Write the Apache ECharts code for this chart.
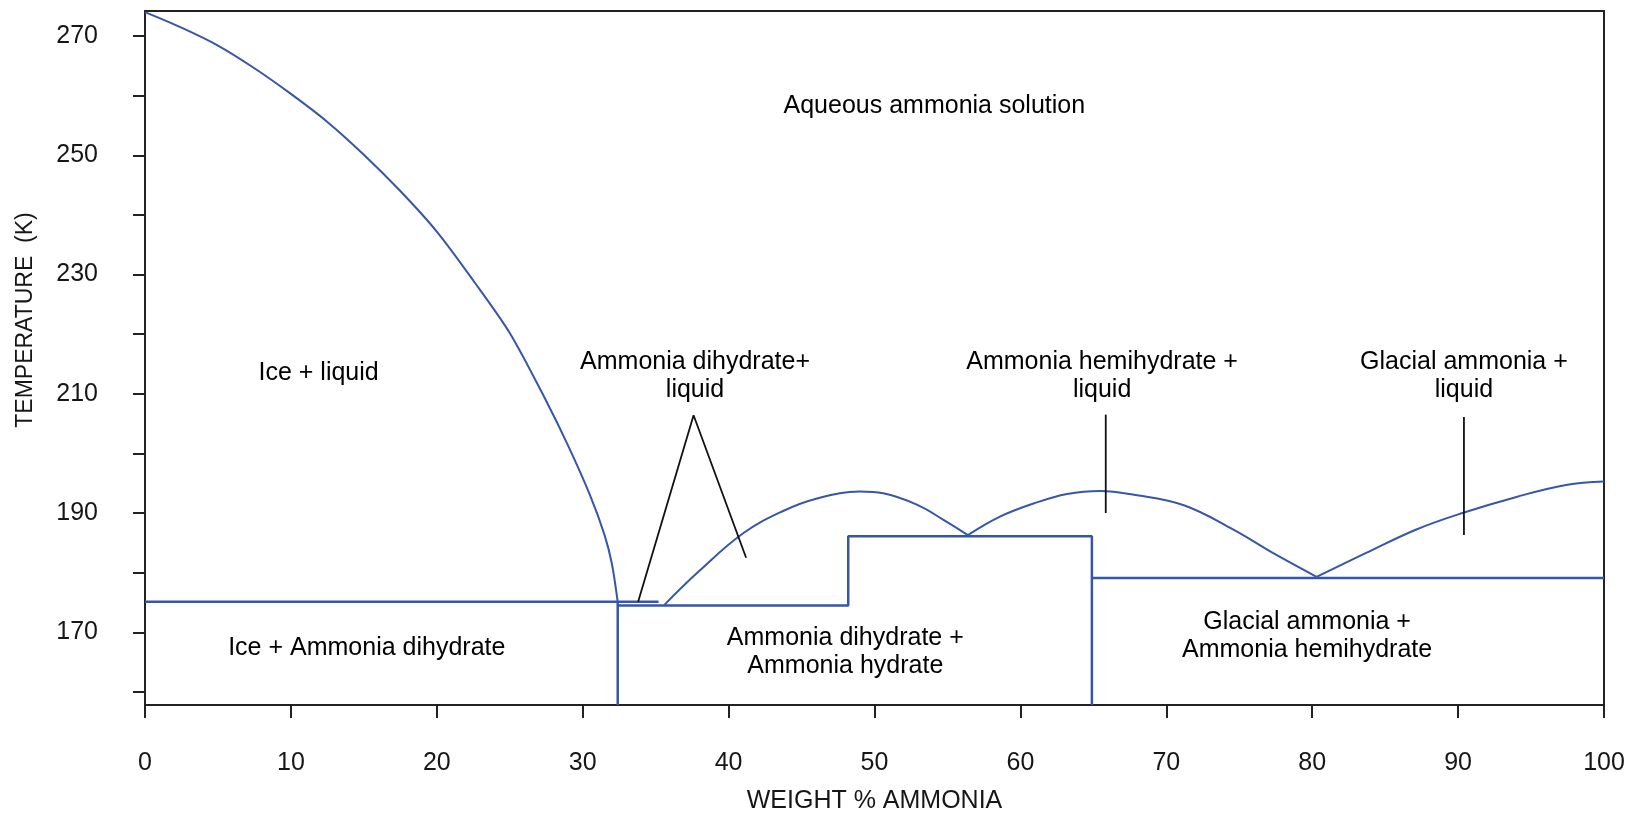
<!DOCTYPE html>
<html>
<head>
<meta charset="utf-8">
<title>Ammonia–water phase diagram</title>
<script src="https://cdn.jsdelivr.net/npm/echarts@6/dist/echarts.min.js"></script>
<style>
  html, body { margin: 0; padding: 0; background: #ffffff; }
  #chart { width: 1636px; height: 813px; }
</style>
</head>
<body>
<div id="chart"></div>
<script>
// Axis ranges and ticks (weight % NH3, temperature in K)
const xMin = 0, xMax = 100;
const yMin = 157.8, yMax = 274.2;
const yTickValues = [160, 170, 180, 190, 200, 210, 220, 230, 240, 250, 260, 270];
const yLabelValues = [170, 190, 210, 230, 250, 270];

// Ice liquidus (freezing curve of water ice)
const iceWt = [0, 2.5, 5.0, 7.5, 10, 12.5, 15, 17.5, 20, 22.5, 25, 27.5, 29, 30.5, 31.5, 32.0, 32.4];
const iceT  = [274.0, 271.4, 268.4, 264.6, 260.3, 255.6, 250.1, 244.0, 237.2, 229.0, 220.2, 208.8, 201.3, 193.0, 186.3, 181.5, 175.1];

// Ammonia dihydrate liquidus
const dihydrateWt = [35.6, 38.0, 41.0, 43.7, 46.0, 49.0, 50.6, 52.9, 54.7, 56.4];
const dihydrateT  = [174.6, 180.3, 186.6, 190.3, 192.4, 193.6, 193.3, 191.4, 188.9, 186.3];

// Ammonia hemihydrate liquidus
const hemihydrateWt = [56.4, 58.6, 60.9, 63.2, 65.5, 67.7, 71.2, 74.6, 77.3, 80.3];
const hemihydrateT  = [186.3, 189.4, 191.6, 193.2, 193.7, 193.1, 191.3, 187.2, 183.3, 179.3];

// Glacial (solid) ammonia liquidus
const glacialWt = [80.3, 83.7, 87.1, 90.3, 94.0, 97.4, 100];
const glacialT  = [179.3, 183.3, 187.2, 190.0, 192.7, 194.7, 195.3];

// Eutectic / peritectic boundaries
const iceEutecticWt = [0, 35.2];
const iceEutecticT  = [175.1, 175.1];
const iceBoundaryWt = [32.4, 32.4];
const iceBoundaryT  = [175.1, yMin];
const hydrateBoxWt = [32.4, 48.2, 48.2, 64.9, 64.9];
const hydrateBoxT  = [174.5, 174.5, 186.1, 186.1, yMin];
const glacialEutecticWt = [64.9, 100];
const glacialEutecticT  = [179.1, 179.1];

// Leader lines from the region labels
const dihydrateLeaderWt = [33.8, 37.6, 41.2];
const dihydrateLeaderT  = [175.1, 206.4, 182.5];
const hemihydrateLeaderWt = [65.85, 65.85];
const hemihydrateLeaderT  = [206.5, 190.0];
const glacialLeaderWt = [90.4, 90.4];
const glacialLeaderT  = [206.1, 186.3];

// Region names and where they sit (wt %, K)
const regionNames = [
  'Aqueous ammonia solution',
  'Ice + liquid',
  'Ammonia dihydrate+\nliquid',
  'Ammonia hemihydrate +\nliquid',
  'Glacial ammonia +\nliquid',
  'Ice + Ammonia dihydrate',
  'Ammonia dihydrate +\nAmmonia hydrate',
  'Glacial ammonia +\nAmmonia hemihydrate'
];
const regionWt = [54.1, 11.9, 37.7, 65.6, 90.4, 15.2, 48.0, 79.65];
const regionT  = [258.3, 213.4, 212.9, 212.9, 212.9, 167.4, 166.6, 169.4];

const FONT = '"Liberation Sans", Arial, Helvetica, sans-serif';
const BLUE = '#3656a8';
const INK = '#161616';

const zip = (xs, ys) => xs.map((x, i) => [x, ys[i]]);

function curve(name, xs, ys, smooth, color, width) {
  return {
    name: name,
    type: 'line',
    data: zip(xs, ys),
    smooth: smooth,
    showSymbol: false,
    symbol: 'none',
    lineStyle: { color: color, width: width },
    silent: true,
    z: 3
  };
}

const chart = echarts.init(document.getElementById('chart'), null, { renderer: 'canvas' });

chart.setOption({
  animation: false,
  backgroundColor: '#ffffff',
  textStyle: { fontFamily: FONT, color: INK },
  grid: {
    left: 145, right: 32, top: 11, bottom: 108,
    containLabel: false,
    outerBoundsMode: 'none',
    show: true,
    borderColor: '#222222',
    borderWidth: 2,
    backgroundColor: 'transparent'
  },
  xAxis: {
    type: 'value',
    min: xMin, max: xMax, interval: 10,
    name: 'WEIGHT % AMMONIA',
    nameLocation: 'middle',
    nameGap: 84,
    nameTextStyle: { fontFamily: FONT, fontSize: 25, color: INK },
    axisLine: { show: true, lineStyle: { color: '#222222', width: 2 } },
    axisTick: { show: true, inside: false, length: 13, lineStyle: { color: '#222222', width: 2 } },
    axisLabel: { fontFamily: FONT, fontSize: 25, color: INK, margin: 46 },
    splitLine: { show: false }
  },
  yAxis: {
    type: 'value',
    min: yMin, max: yMax,
    name: 'TEMPERATURE  (K)',
    nameLocation: 'middle',
    nameRotate: 90,
    nameGap: 108,
    nameTextStyle: { fontFamily: FONT, fontSize: 23, color: INK, padding: [0, 0, 0, 76] },
    axisLine: { show: true, lineStyle: { color: '#222222', width: 2 } },
    axisTick: { show: true, inside: false, length: 12, customValues: yTickValues, lineStyle: { color: '#222222', width: 2 } },
    axisLabel: { fontFamily: FONT, fontSize: 25, color: INK, margin: 47, customValues: yLabelValues },
    splitLine: { show: false }
  },
  series: [
    curve('Ice liquidus', iceWt, iceT, 0.3, BLUE, 2),
    curve('Dihydrate liquidus', dihydrateWt, dihydrateT, 0.4, BLUE, 2),
    curve('Hemihydrate liquidus', hemihydrateWt, hemihydrateT, 0.4, BLUE, 2),
    curve('Glacial liquidus', glacialWt, glacialT, 0.4, BLUE, 2),
    curve('Ice eutectic', iceEutecticWt, iceEutecticT, false, BLUE, 2.5),
    curve('Ice boundary', iceBoundaryWt, iceBoundaryT, false, BLUE, 2.5),
    curve('Hydrate boundaries', hydrateBoxWt, hydrateBoxT, false, BLUE, 2.5),
    curve('Glacial eutectic', glacialEutecticWt, glacialEutecticT, false, BLUE, 2.5),
    curve('Dihydrate leader', dihydrateLeaderWt, dihydrateLeaderT, false, '#111111', 1.8),
    curve('Hemihydrate leader', hemihydrateLeaderWt, hemihydrateLeaderT, false, '#111111', 1.8),
    curve('Glacial leader', glacialLeaderWt, glacialLeaderT, false, '#111111', 1.8),
    {
      name: 'Regions',
      type: 'scatter',
      symbolSize: 1,
      silent: true,
      z: 4,
      itemStyle: { color: '#ffffff', opacity: 0 },
      data: regionNames.map((n, i) => ({ name: n, value: [regionWt[i], regionT[i]] })),
      label: {
        show: true,
        position: 'inside',
        formatter: '{b}',
        fontFamily: FONT,
        fontSize: 25,
        lineHeight: 28,
        color: '#000000',
        opacity: 1,
        textBorderWidth: 0,
        textBorderColor: 'transparent',
        align: 'center',
        verticalAlign: 'middle'
      }
    }
  ]
});
</script>
</body>
</html>
